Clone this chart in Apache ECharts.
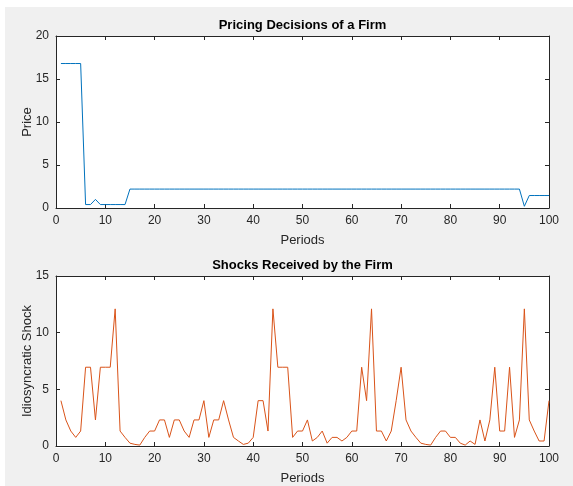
<!DOCTYPE html>
<html>
<head>
<meta charset="utf-8">
<script src="https://cdn.jsdelivr.net/npm/echarts@6/dist/echarts.min.js"></script>
<style>
html,body{margin:0;padding:0;background:#ffffff;}
#chart{width:573px;height:486px;}
</style>
</head>
<body>
<div id="chart"></div>
<script>
// ---- data ----
const periods = [1,2,3,4,5,6,7,8,9,10,11,12,13,14,15,16,17,18,19,20,
  21,22,23,24,25,26,27,28,29,30,31,32,33,34,35,36,37,38,39,40,
  41,42,43,44,45,46,47,48,49,50,51,52,53,54,55,56,57,58,59,60,
  61,62,63,64,65,66,67,68,69,70,71,72,73,74,75,76,77,78,79,80,
  81,82,83,84,85,86,87,88,89,90,91,92,93,94,95,96,97,98,99,100];

const price = [16.8,16.8,16.8,16.8,16.8,0.4,0.4,1.0,0.4,0.4,
  0.4,0.4,0.4,0.4,2.2,2.2,2.2,2.2,2.2,2.2,
  2.2,2.2,2.2,2.2,2.2,2.2,2.2,2.2,2.2,2.2,
  2.2,2.2,2.2,2.2,2.2,2.2,2.2,2.2,2.2,2.2,
  2.2,2.2,2.2,2.2,2.2,2.2,2.2,2.2,2.2,2.2,
  2.2,2.2,2.2,2.2,2.2,2.2,2.2,2.2,2.2,2.2,
  2.2,2.2,2.2,2.2,2.2,2.2,2.2,2.2,2.2,2.2,
  2.2,2.2,2.2,2.2,2.2,2.2,2.2,2.2,2.2,2.2,
  2.2,2.2,2.2,2.2,2.2,2.2,2.2,2.2,2.2,2.2,
  2.2,2.2,2.2,2.2,0.2,1.45,1.45,1.45,1.45,1.45];

const shock = [4.0,2.3,1.32,0.76,1.32,6.95,6.95,2.3,6.95,6.95,
  6.95,12.1,1.32,0.76,0.25,0.14,0.08,0.76,1.32,1.32,
  2.3,2.3,0.76,2.3,2.3,1.32,0.76,2.3,2.3,4.0,
  0.76,2.3,2.3,4.0,2.3,0.76,0.44,0.14,0.25,0.76,
  4.0,4.0,1.32,12.1,6.95,6.95,6.95,0.76,1.32,1.32,
  2.3,0.44,0.76,1.32,0.25,0.76,0.76,0.44,0.76,1.32,
  1.32,6.95,4.0,12.1,1.32,1.32,0.44,1.32,4.0,6.95,
  2.3,1.32,0.76,0.25,0.14,0.08,0.76,1.32,1.32,0.76,
  0.76,0.25,0.08,0.44,0.14,2.3,0.44,2.3,6.95,1.32,
  1.32,6.95,0.76,2.3,12.1,2.3,1.32,0.44,0.44,4.0];

const titles = ['Pricing Decisions of a Firm', 'Shocks Received by the Firm'];
const xName = 'Periods';
const yNames = ['Price', 'Idiosyncratic Shock'];
const yMax = [20, 15];

// ---- styling ----
const FONT = '"Liberation Sans", Arial, Helvetica, sans-serif';
const AX = '#262626';
const grids = [
  {left: 56, top: 36, width: 493, height: 172},
  {left: 56, top: 276, width: 493, height: 172}
];

function xAxes(gi) {
  const base = {
    type: 'value', gridIndex: gi, min: 0, max: 100, interval: 10,
    splitLine: {show: false},
    axisLine: {show: true, onZero: false, lineStyle: {color: AX, width: 1}},
    axisTick: {show: true, inside: true, length: 4, lineStyle: {color: AX}}
  };
  return [
    Object.assign({}, base, {
      position: 'bottom',
      name: xName, nameLocation: 'middle', nameGap: 26, nameMoveOverlap: false,
      nameTextStyle: {fontFamily: FONT, fontSize: 13, color: AX},
      axisLabel: {show: true, margin: 7, fontFamily: FONT, fontSize: 12, color: AX}
    }),
    Object.assign({}, base, {position: 'top', axisLabel: {show: false}})
  ];
}
function yAxes(gi) {
  const base = {
    type: 'value', gridIndex: gi, min: 0, max: yMax[gi], interval: 5,
    splitLine: {show: false},
    axisLine: {show: true, onZero: false, lineStyle: {color: AX, width: 1}},
    axisTick: {show: true, inside: true, length: 4, lineStyle: {color: AX}}
  };
  return [
    Object.assign({}, base, {
      position: 'left',
      name: yNames[gi], nameLocation: 'middle', nameGap: 22, nameMoveOverlap: false,
      nameTextStyle: {fontFamily: FONT, fontSize: 13, color: AX},
      axisLabel: {show: true, margin: 7, fontFamily: FONT, fontSize: 12, color: AX}
    }),
    Object.assign({}, base, {position: 'right', axisLabel: {show: false}})
  ];
}

const chart = echarts.init(document.getElementById('chart'), null, {renderer: 'canvas'});
chart.setOption({
  animation: false,
  backgroundColor: '#ffffff',
  graphic: [
    {type: 'rect', z: -10, silent: true, shape: {x: 5, y: 7, width: 568, height: 479}, style: {fill: '#f0f0f0'}},
    {type: 'rect', z: -9, silent: true, shape: {x: 56, y: 36, width: 493, height: 172}, style: {fill: '#ffffff'}},
    {type: 'rect', z: -9, silent: true, shape: {x: 56, y: 276, width: 493, height: 172}, style: {fill: '#ffffff'}},
    {type: 'text', x: 302.5, y: 25, style: {text: titles[0], font: 'bold 13px ' + FONT, fill: '#000', align: 'center', verticalAlign: 'middle'}},
    {type: 'text', x: 302.5, y: 265, style: {text: titles[1], font: 'bold 13px ' + FONT, fill: '#000', align: 'center', verticalAlign: 'middle'}}
  ],
  grid: grids,
  xAxis: xAxes(0).concat(xAxes(1)),
  yAxis: yAxes(0).concat(yAxes(1)),
  series: [
    {type: 'line', xAxisIndex: 0, yAxisIndex: 0, data: periods.map((p, i) => [p, price[i]]),
     showSymbol: false, symbol: 'none', lineStyle: {color: '#0072BD', width: 1}, itemStyle: {color: '#0072BD'}},
    {type: 'line', xAxisIndex: 2, yAxisIndex: 2, data: periods.map((p, i) => [p, shock[i]]),
     showSymbol: false, symbol: 'none', lineStyle: {color: '#D95319', width: 1}, itemStyle: {color: '#D95319'}}
  ]
});
</script>
</body>
</html>
